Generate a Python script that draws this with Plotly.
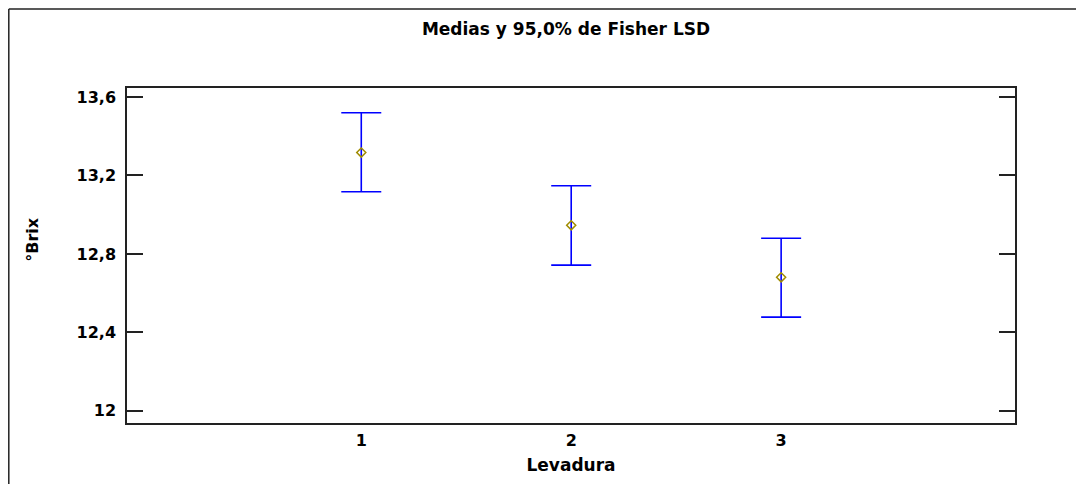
import plotly.graph_objects as go

levadura = ["1", "2", "3"]
x_pos = [1, 2, 3]
medias = [13.317, 12.946, 12.681]
upper = [13.520, 13.148, 12.880]
lower = [13.117, 12.743, 12.478]
y_ticks = [12.0, 12.4, 12.8, 13.2, 13.6]
y_tick_text = ["12", "12,4", "12,8", "13,2", "13,6"]

err_plus = [u - m for u, m in zip(upper, medias)]
err_minus = [m - l for m, l in zip(medias, lower)]

FONT = "DejaVu Sans"
W, H = 1084, 484
OFF = 8  # page offset of the figure in the browser
# target plot area in screen pixels: x 127..1015, y 88..423.5
L, T = 127 - OFF, 88 - OFF
R = W - (1015 - OFF)
B = H - (423.5 - OFF)

px = lambda p: (p - OFF - L) / (W - L - R)
py = lambda p: (H - B - (p - OFF)) / (H - T - B)

fig = go.Figure()
fig.add_trace(go.Scatter(
    x=x_pos, y=medias, mode="markers",
    marker=dict(symbol="diamond-open", size=7, color="#a08c00",
                line=dict(width=1.5, color="#a08c00")),
    error_y=dict(type="data", symmetric=False, array=err_plus, arrayminus=err_minus,
                 color="#0000ff", thickness=1.6, width=20),
    showlegend=False,
))

fig.update_layout(
    width=W, height=H,
    margin=dict(l=L, r=R, t=T, b=B),
    paper_bgcolor="white", plot_bgcolor="white",
    font=dict(family=FONT, color="black"),
    title=dict(text="Medias y 95,0% de Fisher LSD", x=(566 - OFF) / W,
               xanchor="center", y=1 - (29 - OFF) / H, yanchor="middle",
               font=dict(family=FONT, size=17, weight="bold", color="black")),
    xaxis=dict(range=[-0.116, 4.114], tickvals=x_pos, ticktext=levadura,
               showline=True, mirror=True, linecolor="#222", linewidth=1.5,
               ticks="", showgrid=False, zeroline=False, ticklabelstandoff=2,
               tickfont=dict(family=FONT, size=16, weight="bold"),
               title=dict(text="Levadura", standoff=10,
                          font=dict(family=FONT, size=17, weight="bold"))),
    yaxis=dict(range=[11.938, 13.646], tickvals=y_ticks, ticktext=y_tick_text,
               showline=True, mirror="ticks", linecolor="#222", linewidth=1.5,
               ticks="inside", ticklen=16, tickwidth=1.5, tickcolor="#222",
               showgrid=False, zeroline=False, ticklabelstandoff=6,
               tickfont=dict(family=FONT, size=16, weight="bold")),
)

# y axis title placed as in the reference (slightly above the centre)
fig.add_annotation(text="°Brix", textangle=-90, xref="paper", yref="paper",
                   x=px(33), y=py(240), xanchor="center", yanchor="middle",
                   showarrow=False, font=dict(family=FONT, size=16, weight="bold"))

# outer frame (top and left edges visible)
fig.add_shape(type="line", xref="paper", yref="paper",
              x0=px(OFF + 0.8), x1=px(W + 20), y0=py(OFF + 0.8), y1=py(OFF + 0.8),
              line=dict(color="#222", width=1.5))
fig.add_shape(type="line", xref="paper", yref="paper",
              x0=px(OFF + 0.8), x1=px(OFF + 0.8), y0=py(OFF + 0.8), y1=py(H + 20),
              line=dict(color="#222", width=1.5))

fig.write_html("out.html")
